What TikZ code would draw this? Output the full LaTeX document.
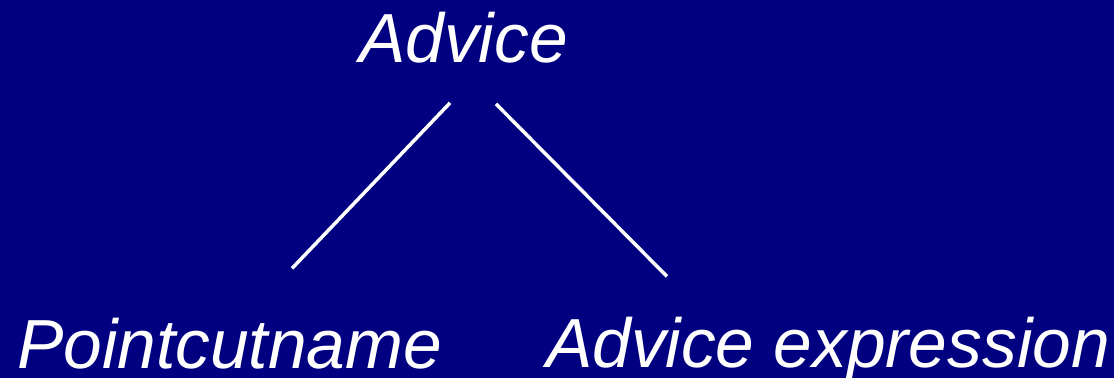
\documentclass[tikz,border=0pt]{standalone}
\usepackage{fontspec}
\setmainfont{Liberation Sans}
\usepackage{xcolor}
\usetikzlibrary{positioning,calc}
\definecolor{navybg}{RGB}{0,0,128}
\tikzset{
  treetext/.style={text=white, font=\fontsize{69.5}{80}\selectfont\itshape, inner sep=0pt, anchor=base},
  treeline/.style={draw=white, line width=3.5pt},
}

\begin{document}
\begin{tikzpicture}[x=1pt, y=-1pt]
  % Background
  \fill[navybg] (0,0) rectangle (1114,378);
  \useasboundingbox (0,0) rectangle (1114,378);

  % Root
  \node[treetext] (advice) at (463.5,62) {Advice};

  % Children
  \node[treetext] (pcname) at (229.5,368) {Pointcutname};
  \node[treetext] (advexpr) at (828,367) {Advice expression};

  \draw[treeline] ([xshift=-13.5pt,yshift=-40pt]advice.south) -- ([xshift=62.5pt,yshift=49pt]pcname.north);
  \draw[treeline] ([xshift=32.5pt,yshift=-41pt]advice.south) -- ([xshift=-161pt,yshift=40pt]advexpr.north);
\end{tikzpicture}
\end{document}
